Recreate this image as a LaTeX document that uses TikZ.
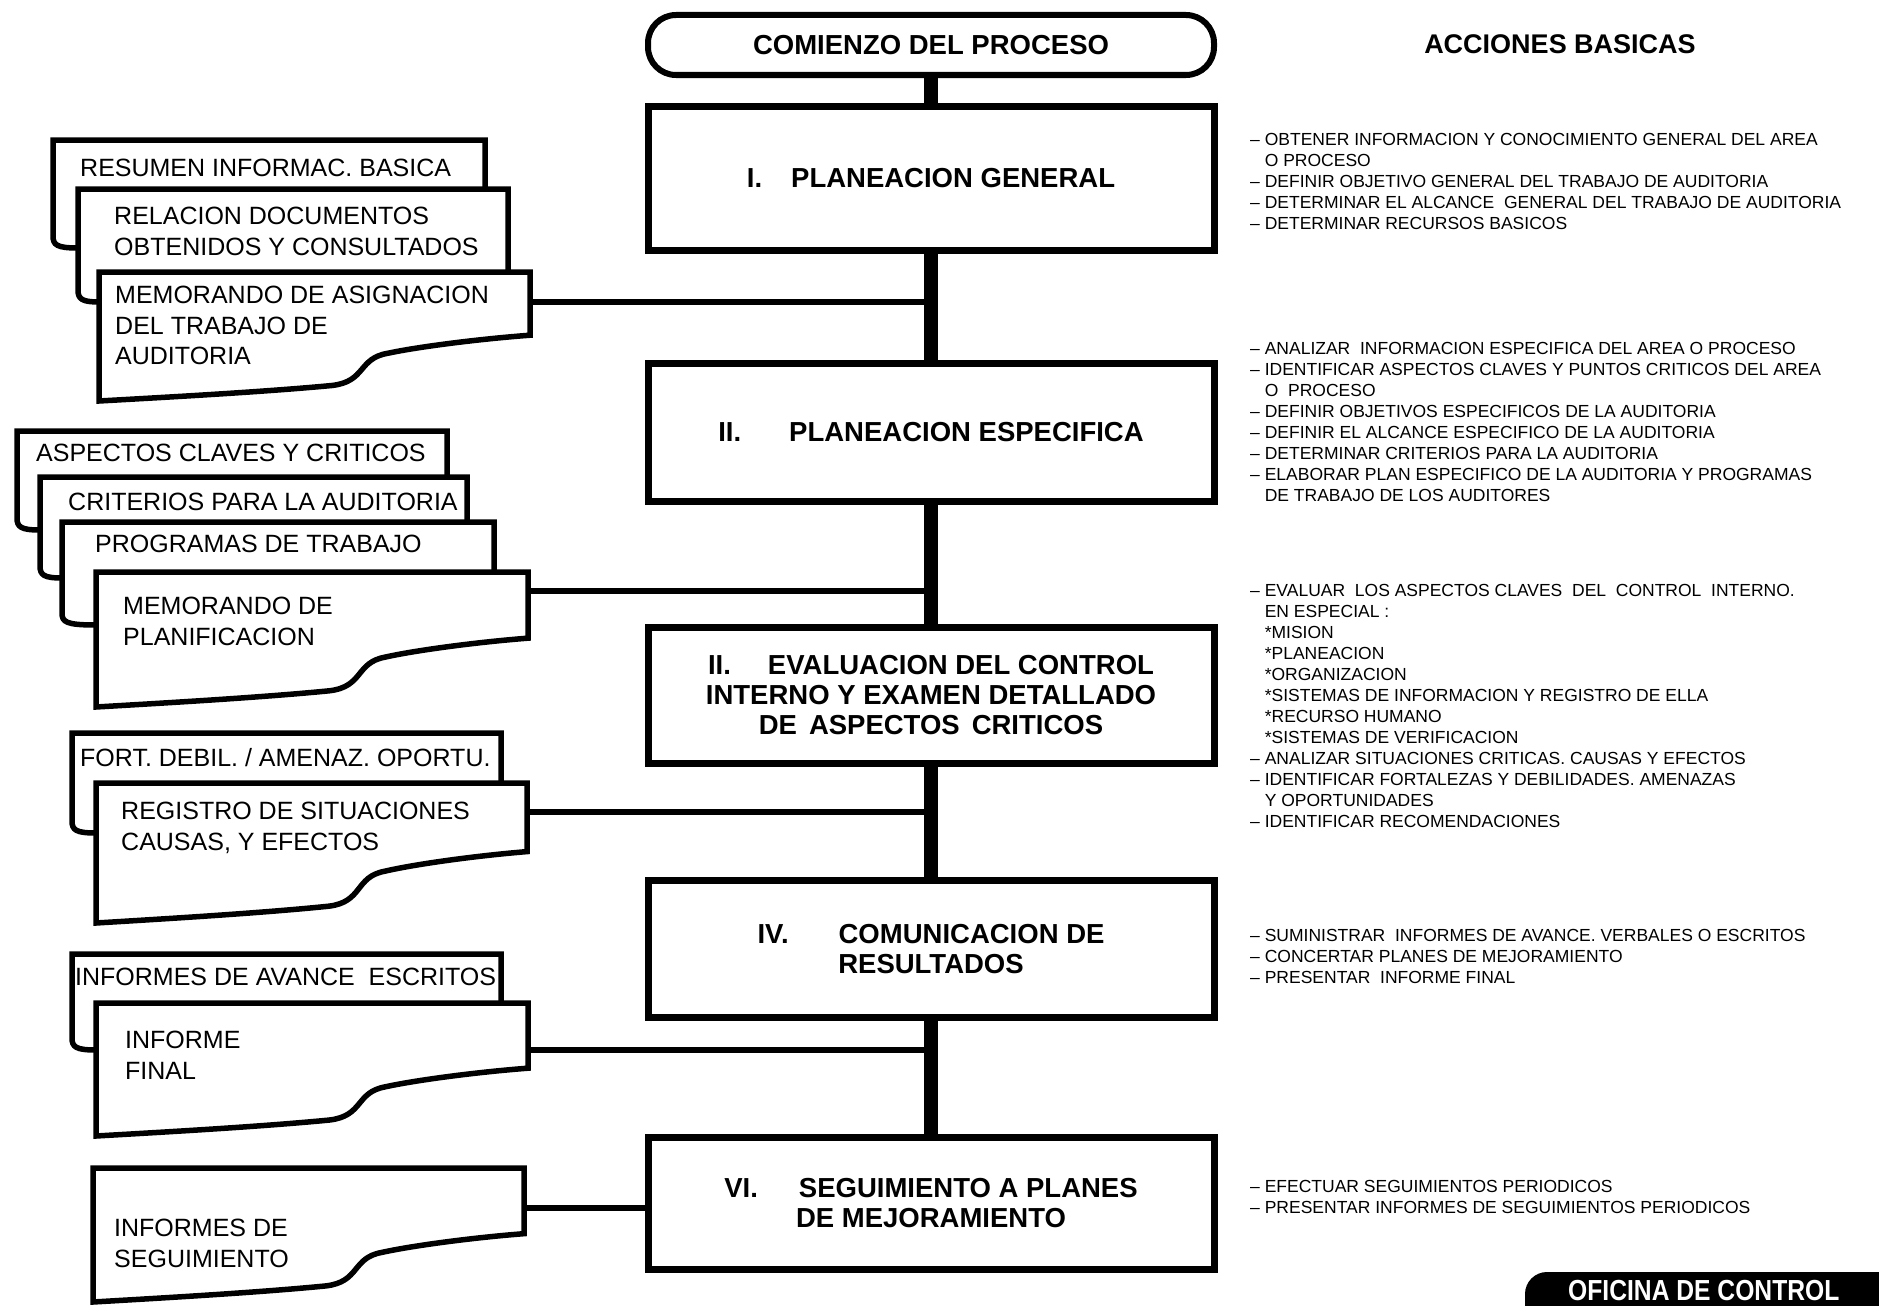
\documentclass[tikz,border=0pt]{standalone}
\usepackage{fontspec}
\setmainfont{Liberation Sans}
\newfontfamily\bannerf[FakeStretch=0.85]{Liberation Sans}
\newcommand\frontdoc[4]{%
  \begin{scope}[shift={(#1,#2)},x={(#3-#1,0)},y={(0,#4-#2)}]
    \path[docline] (0,0) -- (1,0) -- (1,0.49)
      .. controls (0.88,0.52) and (0.74,0.58) .. (0.67,0.63)
      .. controls (0.60,0.67) and (0.62,0.85) .. (0.54,0.88)
      .. controls (0.38,0.93) and (0.16,0.97) .. (0,1) -- cycle;
  \end{scope}}
\newcommand\backdoc[6]{%
  \path[docline] (#3,#4) -- (#3,#2) -- (#1,#2) -- (#1,#5-12)
    .. controls (#1,#5-3) and (#1+4,#5) .. (#6,#5);}
\newcommand\ind{\phantom{– }}
\begin{document}
\begin{tikzpicture}[x=1pt,y=-1pt,
  box/.style={draw, line width=7pt, fill=white, minimum width=566pt, inner sep=0pt,
    align=center, font=\fontsize{27.5}{30}\selectfont\bfseries},
  docline/.style={draw, fill=white, line width=5.5pt},
  doctext/.style={anchor=north west, inner sep=0pt, align=left,
    font=\fontsize{25}{30.5}\selectfont},
  act/.style={anchor=north west, inner sep=0pt, align=left,
    font=\fontsize{17.5}{21}\selectfont},
  spine/.style={line width=14pt},
  link/.style={line width=5.5pt}]
\useasboundingbox (0,0) rectangle (1879,1306);
\fill[white] (0,0) rectangle (1879,1306);
\clip (0,0) rectangle (1879,1306);

% ---------- central column ----------
\node[box, line width=6pt, rounded corners=28pt, minimum height=60pt] (start) at (931,45) {COMIENZO DEL PROCESO};
\node[box, minimum height=144pt] (b1) at (931,178.5) {I.\hspace{29pt}PLANEACION GENERAL};
\node[box, minimum height=138pt] (b2) at (931,432.5) {II.\hspace{48pt}PLANEACION ESPECIFICA};
\node[box, minimum height=136pt] (b3) at (931,695.5) {II.\hspace{37pt}EVALUACION DEL CONTROL\\INTERNO Y EXAMEN DETALLADO\\DE\hspace{12pt}ASPECTOS\hspace{12pt}CRITICOS};
\node[box, minimum height=137pt] (b4) at (931,949) {IV.\hspace{50pt}COMUNICACION DE\\RESULTADOS};
\node[box, minimum height=132pt] (b6) at (931,1203.5) {VI.\hspace{41pt}SEGUIMIENTO A PLANES\\DE MEJORAMIENTO};

\draw[spine] (start) -- (b1);
\draw[spine] (b1) -- (b2);
\draw[spine] (b2) -- (b3);
\draw[spine] (b3) -- (b4);
\draw[spine] (b4) -- (b6);

% ---------- group 1 ----------
\backdoc{53}{140}{485}{189}{248}{78}
\node[doctext] (t11) at (80,159) {RESUMEN INFORMAC. BASICA};
\backdoc{78}{189}{508}{272}{302}{99}
\node[doctext] (t12) at (114,207) {RELACION DOCUMENTOS\\OBTENIDOS Y CONSULTADOS};
\frontdoc{99}{272}{530}{401}
\node[doctext] (t13) at (115,286) {MEMORANDO DE ASIGNACION\\DEL TRABAJO DE\\AUDITORIA};
\coordinate (c1) at (530,302);

% ---------- group 2 ----------
\backdoc{17}{431}{447}{477}{530}{40}
\node[doctext] (t21) at (36,444) {ASPECTOS CLAVES Y CRITICOS};
\backdoc{40}{477}{467}{522}{578}{62}
\node[doctext] (t22) at (68,493) {CRITERIOS PARA LA AUDITORIA};
\backdoc{62}{522}{494}{572}{625}{96}
\node[doctext] (t23) at (95,535) {PROGRAMAS DE TRABAJO};
\frontdoc{96}{572}{528}{707}
\node[doctext] (t24) at (123,597) {MEMORANDO DE\\PLANIFICACION};
\coordinate (c2) at (528,591);

% ---------- group 3 ----------
\backdoc{72}{733}{501}{783}{833}{96}
\node[doctext] (t31) at (80,748) {FORT. DEBIL. / AMENAZ. OPORTU.};
\frontdoc{96}{783}{527}{923}
\node[doctext] (t32) at (121,802) {REGISTRO DE SITUACIONES\\CAUSAS, Y EFECTOS};
\coordinate (c3) at (527,812);

% ---------- group 4 ----------
\backdoc{72}{954}{501}{1003}{1050}{96}
\node[doctext] (t41) at (75,968) {INFORMES DE AVANCE\ \ ESCRITOS};
\frontdoc{96}{1003}{528}{1136}
\node[doctext] (t42) at (125,1031) {INFORME\\FINAL};
\coordinate (c4) at (528,1050);

% ---------- group 5 ----------
\frontdoc{93}{1168}{524}{1302}
\node[doctext] (t51) at (114,1219) {INFORMES DE\\SEGUIMIENTO};
\coordinate (c5) at (524,1208);

% ---------- connectors ----------
\draw[link] (c1) -- (c1 -| b1);
\draw[link] (c2) -- (c2 -| b2);
\draw[link] (c3) -- (c3 -| b3);
\draw[link] (c4) -- (c4 -| b4);
\draw[link] (c5) -- (c5 -| b6.west);

% ---------- right column ----------
\node[inner sep=0pt, font=\fontsize{27}{30}\selectfont\bfseries] (head) at (1560,44) {ACCIONES BASICAS};

\node[act] (a1) at (1250,133) {– OBTENER INFORMACION Y CONOCIMIENTO GENERAL DEL AREA\\
\ind O PROCESO\\
– DEFINIR OBJETIVO GENERAL DEL TRABAJO DE AUDITORIA\\
– DETERMINAR EL ALCANCE\ \ GENERAL DEL TRABAJO DE AUDITORIA\\
– DETERMINAR RECURSOS BASICOS};

\node[act] (a2) at (1250,342) {– ANALIZAR\ \ INFORMACION ESPECIFICA DEL AREA O PROCESO\\
– IDENTIFICAR ASPECTOS CLAVES Y PUNTOS CRITICOS DEL AREA\\
\ind O\ \ PROCESO\\
– DEFINIR OBJETIVOS ESPECIFICOS DE LA AUDITORIA\\
– DEFINIR EL ALCANCE ESPECIFICO DE LA AUDITORIA\\
– DETERMINAR CRITERIOS PARA LA AUDITORIA\\
– ELABORAR PLAN ESPECIFICO DE LA AUDITORIA Y PROGRAMAS\\
\ind DE TRABAJO DE LOS AUDITORES};

\node[act] (a3) at (1250,584) {– EVALUAR\ \ LOS ASPECTOS CLAVES\ \ DEL\ \ CONTROL\ \ INTERNO.\\
\ind EN ESPECIAL :\\
\ind *MISION\\
\ind *PLANEACION\\
\ind *ORGANIZACION\\
\ind *SISTEMAS DE INFORMACION Y REGISTRO DE ELLA\\
\ind *RECURSO HUMANO\\
\ind *SISTEMAS DE VERIFICACION\\
– ANALIZAR SITUACIONES CRITICAS. CAUSAS Y EFECTOS\\
– IDENTIFICAR FORTALEZAS Y DEBILIDADES. AMENAZAS\\
\ind Y OPORTUNIDADES\\
– IDENTIFICAR RECOMENDACIONES};

\node[act] (a4) at (1250,929) {– SUMINISTRAR\ \ INFORMES DE AVANCE. VERBALES O ESCRITOS\\
– CONCERTAR PLANES DE MEJORAMIENTO\\
– PRESENTAR\ \ INFORME FINAL};

\node[act] (a6) at (1250,1180) {– EFECTUAR SEGUIMIENTOS PERIODICOS\\
– PRESENTAR INFORMES DE SEGUIMIENTOS PERIODICOS};

% ---------- banner ----------
\fill[black, rounded corners=22pt] (1525,1272) rectangle (1940,1345);
\node[anchor=north west, inner sep=0pt, text=white,
  font=\bannerf\bfseries\fontsize{29}{32}\selectfont] (ofc) at (1568,1280) {OFICINA DE CONTROL};
\end{tikzpicture}
\end{document}
